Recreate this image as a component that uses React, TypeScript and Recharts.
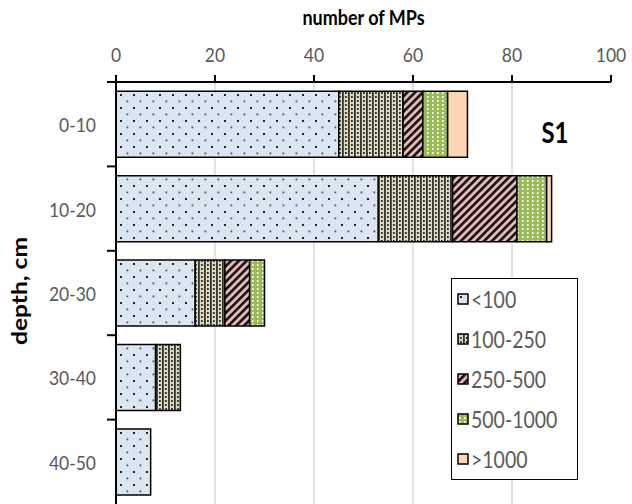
import { Bar, BarChart, CartesianGrid, Legend, XAxis, YAxis } from "recharts";

// microplastic counts per depth layer, stacked by size class (µm)
const depths = ["0-10", "10-20", "20-30", "30-40", "40-50"];
const lt100 = [45, 53, 16, 8, 7];
const s100to250 = [13, 15, 6, 5, 0];
const s250to500 = [4, 13, 5, 0, 0];
const s500to1000 = [5, 6, 3, 0, 0];
const gt1000 = [4, 1, 0, 0, 0];
const xTicks = [0, 20, 40, 60, 80, 100];
const gridTicks = [20, 40, 60, 80];
const sizeClasses = ["<100", "100-250", "250-500", "500-1000", ">1000"];
const seriesKeys = ["lt100", "s100to250", "s250to500", "s500to1000", "gt1000"];

const data = depths.map((depth, i) => ({
  depth,
  lt100: lt100[i],
  s100to250: s100to250[i],
  s250to500: s250to500[i],
  s500to1000: s500to1000[i],
  gt1000: gt1000[i],
}));

const W = 632;
const H = 504;
const MARGIN = { top: 30, right: 21, bottom: 0, left: 0 };
const X_AXIS_H = 52;
const Y_AXIS_W = 116;
const AXIS_X = MARGIN.left + Y_AXIS_W;
const PLOT_TOP = MARGIN.top + X_AXIS_H;
const BAND = (H - MARGIN.bottom - PLOT_TOP) / depths.length;
const X_MIN = xTicks[0];
const X_MAX = xTicks[xTicks.length - 1];
const FONT = "Lato, 'Open Sans', sans-serif";
const GREY = "#595959";
// the source picture is a little taller than wide, so glyphs are stretched
const SY = 1.15;

const fills = [
  "url(#pDots)",
  "url(#pTan)",
  "url(#pStripe)",
  "url(#pGreen)",
  "#fcd5b5",
];

function Patterns() {
  return (
    <defs>
      <pattern id="pDots" width="13" height="13" patternUnits="userSpaceOnUse">
        <rect width="13" height="13" fill="#dce6f2" />
        <rect x="3" y="3" width="2" height="2" fill="#222" />
        <rect x="9.5" y="9.5" width="1.8" height="1.8" fill="#555" />
      </pattern>
      <pattern id="pTan" width="6" height="4" patternUnits="userSpaceOnUse">
        <rect width="6" height="4" fill="#ddd9c3" />
        <rect x="0" y="0" width="1.8" height="4" fill="#33332a" />
        <rect x="3" y="0" width="1.8" height="2" fill="#33332a" />
      </pattern>
      <pattern
        id="pStripe"
        width="5.5"
        height="6"
        patternUnits="userSpaceOnUse"
        patternTransform="rotate(45)"
      >
        <rect width="5.5" height="6" fill="#e6b9b8" />
        <rect x="0" y="0" width="2.6" height="6" fill="#111" />
      </pattern>
      <pattern id="pGreen" width="5" height="4" patternUnits="userSpaceOnUse">
        <rect width="5" height="4" fill="#9bbb59" />
        <rect x="2" y="0" width="1.5" height="2" fill="#fff" />
      </pattern>
    </defs>
  );
}

const CountTick = ({ x, y, payload }: any) => (
  <text
    transform={`translate(${x},${y}) scale(1,${SY})`}
    textAnchor="middle"
    fill={GREY}
    fontSize={17.5}
    fontFamily={FONT}
  >
    {payload.value}
  </text>
);

const DepthTick = ({ y, payload }: any) => (
  <g>
    <text
      transform={`translate(${AXIS_X - 20},${y}) scale(1,${SY})`}
      textAnchor="end"
      dominantBaseline="central"
      fill={GREY}
      fontSize={17.5}
      fontFamily={FONT}
    >
      {payload.value}
    </text>
    <line
      x1={AXIS_X - 9}
      x2={AXIS_X}
      y1={y - BAND / 2}
      y2={y - BAND / 2}
      stroke="#000"
      strokeWidth={2}
    />
  </g>
);

const LegendBox = () => (
  <div
    style={{
      border: "1.5px solid #000",
      background: "#fff",
      width: 127,
      boxSizing: "border-box",
      fontFamily: FONT,
      fontSize: 19.5,
      color: GREY,
    }}
  >
    {sizeClasses.map((name, i) => (
      <div
        key={name}
        style={{ height: 40, display: "flex", alignItems: "center", paddingLeft: 5 }}
      >
        <svg width={12} height={12} style={{ marginRight: 2, flexShrink: 0 }}>
          <rect x={1} y={1} width={10} height={10} fill={fills[i]} stroke="#000" strokeWidth={1.5} />
        </svg>
        <span style={{ display: "inline-block", whiteSpace: "nowrap", transform: `scaleY(${SY})` }}>
          {name}
        </span>
      </div>
    ))}
  </div>
);

export default function App() {
  return (
    <div style={{ position: "absolute", left: 0, top: 0, width: W, height: H }}>
      <BarChart
        width={W}
        height={H}
        data={data}
        layout="vertical"
        margin={MARGIN}
        barCategoryGap="11%"
      >
        <Patterns />
        <CartesianGrid
          horizontal={false}
          stroke="#d9d9d9"
          strokeWidth={1.5}
          verticalCoordinatesGenerator={({ offset }: any) =>
            gridTicks.map(
              (t) => offset.left + ((t - X_MIN) / (X_MAX - X_MIN)) * offset.width
            )
          }
        />
        <XAxis
          type="number"
          orientation="top"
          domain={[X_MIN, X_MAX]}
          ticks={xTicks}
          height={X_AXIS_H}
          tickSize={7}
          tickMargin={13}
          axisLine={{ stroke: "#000", strokeWidth: 2 }}
          tickLine={{ stroke: "#000", strokeWidth: 2 }}
          tick={<CountTick />}
        />
        <YAxis
          type="category"
          dataKey="depth"
          width={Y_AXIS_W}
          axisLine={{ stroke: "#000", strokeWidth: 2 }}
          tickLine={false}
          tick={<DepthTick />}
          interval={0}
        />
        {seriesKeys.map((key, i) => (
          <Bar
            key={key}
            dataKey={key}
            name={sizeClasses[i]}
            stackId="mp"
            fill={fills[i]}
            stroke="#000"
            strokeWidth={1.5}
            isAnimationActive={false}
          />
        ))}
        <Legend
          layout="vertical"
          align="center"
          verticalAlign="middle"
          content={<LegendBox />}
          wrapperStyle={{ left: 451, top: 278, width: 127 }}
        />
        <text
          transform={`translate(${(AXIS_X + W - MARGIN.right) / 2},17) scale(1,${SY})`}
          textAnchor="middle"
          dominantBaseline="central"
          fontSize={18}
          fontWeight="bold"
          fontFamily={FONT}
          fill="#000"
        >
          number of MPs
        </text>
        <text
          transform={`translate(19,291) rotate(-90) scale(1.2,1)`}
          textAnchor="middle"
          dominantBaseline="central"
          fontSize={20.5}
          fontWeight="bold"
          fontFamily={FONT}
          fill="#000"
        >
          depth, cm
        </text>
        <text
          transform={`translate(555,132) scale(1,${SY})`}
          textAnchor="middle"
          dominantBaseline="central"
          fontSize={24}
          fontWeight="bold"
          fontFamily={FONT}
          fill="#000"
        >
          S1
        </text>
      </BarChart>
    </div>
  );
}
